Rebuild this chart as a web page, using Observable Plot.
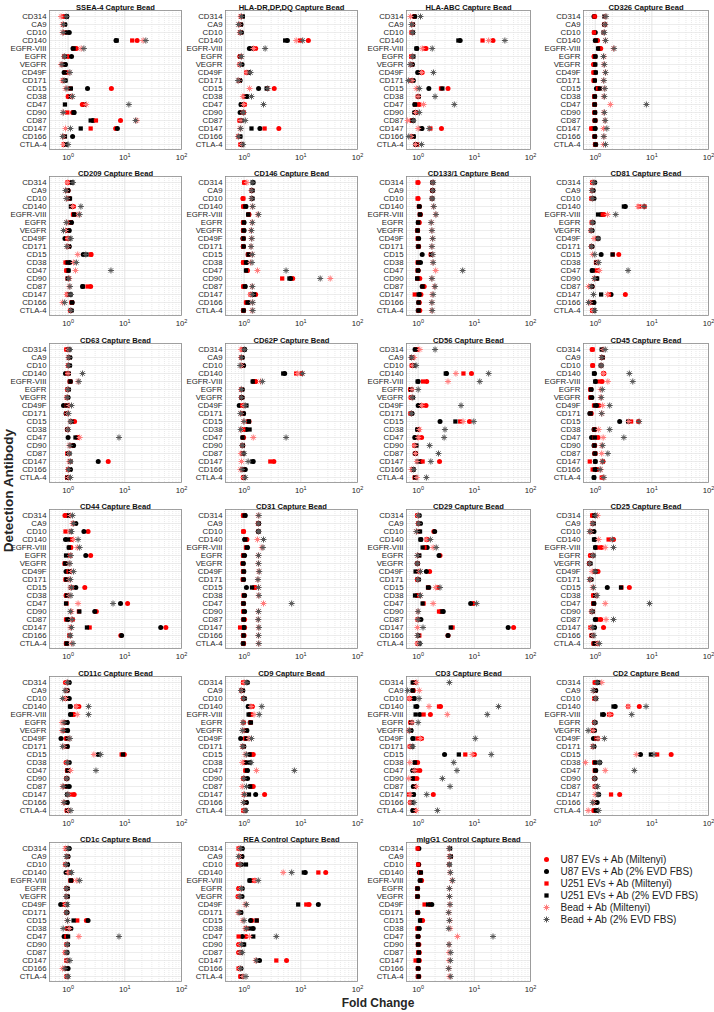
<!DOCTYPE html>
<html><head><meta charset="utf-8">
<script src="https://cdn.jsdelivr.net/npm/d3@7"></script>
<script src="https://cdn.jsdelivr.net/npm/@observablehq/plot@0.6"></script>
<style>
body{margin:0;background:#fff;font-family:"Liberation Sans",Arial,sans-serif;overflow:hidden;}
#root{position:relative;width:714px;height:1012px;}
.lab{position:absolute;font-weight:bold;color:#262626;white-space:nowrap;text-align:center;}
</style></head><body><div id="root"></div>
<script>
const categories = ["CD314","CA9","CD10","CD140","EGFR-VIII","EGFR","VEGFR","CD49F","CD171","CD15","CD38","CD47","CD90","CD87","CD147","CD166","CTLA-4"];
const seriesNames = ["U87 EVs + Ab (Miltenyi)","U87 EVs + Ab (2% EVD FBS)","U251 EVs + Ab (Miltenyi)","U251 EVs + Ab (2% EVD FBS)","Bead + Ab (Miltenyi)","Bead + Ab (2% EVD FBS)"];
const panelTitles = ["SSEA-4 Capture Bead","HLA-DR,DP,DQ Capture Bead","HLA-ABC Capture Bead","CD326 Capture Bead","CD209 Capture Bead","CD146 Capture Bead","CD133/1 Capture Bead","CD81 Capture Bead","CD63 Capture Bead","CD62P Capture Bead","CD56 Capture Bead","CD45 Capture Bead","CD44 Capture Bead","CD31 Capture Bead","CD29 Capture Bead","CD25 Capture Bead","CD11c Capture Bead","CD9 Capture Bead","CD3 Capture Bead","CD2 Capture Bead","CD1c Capture Bead","REA Control Capture Bead","mIgG1 Control Capture Bead"];
const xTicks = [1, 10, 100];

// each row: one detection antibody; columns follow seriesNames order
const SSEA4 = [[0.85,0.95,0.82,0.95,0.75,0.93],[0.85,0.88,0.82,0.86,0.8,0.83],[0.9,1.05,0.85,0.95,0.8,0.82],[16.5,7.0,13.5,7.2,21,23.5],[1.4,1.22,1.3,1.25,1.7,1.9],[1.0,1.15,0.85,0.87,0.85,0.87],[0.82,0.9,0.8,0.87,0.75,0.78],[0.95,0.85,0.9,0.88,1.05,1.08],[0.82,0.88,0.83,0.9,0.8,0.85],[5.8,2.2,1.08,1.12,0.9,0.95],[1.0,1.08,1.02,1.12,1.15,1.2],[1.78,1.95,1.85,0.88,2.1,11.8],[1.2,1.28,0.97,1.25,0.82,0.82],[8.4,2.75,3.1,2.5,16.3,15.5],[6.9,7.4,2.5,1.67,0.9,1.1],[0.85,1.2,0.85,0.88,0.82,0.8],[0.85,0.9,0.85,0.92,0.83,1.0]];
const HLADR = [[0.9,0.92,0.88,0.95,0.87,0.9],[0.87,0.88,0.84,0.86,0.82,0.8],[0.88,0.9,0.85,0.87,0.84,0.86],[13.6,5.8,9.7,5.3,8.3,10.8],[1.6,1.24,1.5,1.32,1.46,2.35],[0.84,0.86,0.85,0.87,0.88,0.9],[0.85,0.92,0.84,0.88,0.83,0.86],[1.12,1.2,1.1,1.22,1.12,1.3],[0.83,0.85,0.82,0.84,0.8,0.78],[3.4,1.8,2.55,2.5,1.25,2.6],[1.05,1.12,1.0,1.1,0.95,1.35],[1.02,0.88,1.0,0.9,0.98,2.2],[0.98,0.85,0.95,0.95,0.96,0.98],[0.85,0.88,0.83,0.9,0.88,1.05],[4.1,1.9,2.3,1.35,0.85,0.87],[0.82,0.84,0.8,0.86,0.78,0.8],[0.88,0.9,0.86,0.92,0.9,0.96]];
const HLAABC = [[0.85,0.87,0.84,0.86,0.73,1.1],[0.8,0.8,0.78,0.8,0.78,0.76],[0.78,0.8,0.76,0.8,0.78,0.8],[21.5,5.6,14,5.2,18,35],[1.38,0.95,1.28,0.93,1.18,1.78],[0.76,0.8,0.75,0.82,0.78,0.8],[0.77,0.79,0.76,0.78,0.74,0.72],[1.18,0.98,1.15,1.02,1.15,1.87],[0.77,0.82,0.75,0.8,0.78,0.67],[3.4,1.55,2.55,2.7,0.93,1.05],[1.0,1.0,0.99,1.02,1.0,2.0],[1.04,0.87,0.9,0.88,1.25,4.4],[0.93,0.86,0.9,0.88,0.9,1.05],[0.77,0.82,0.78,0.8,0.65,0.82],[2.6,1.17,1.65,1.12,1.0,1.57],[0.8,0.82,0.78,0.83,0.75,0.68],[0.95,0.9,0.92,0.92,0.9,1.15]];
const CD326 = [[0.98,0.95,0.97,1.45,1.5,1.55],[1.48,1.45,1.47,1.44,1.45,1.5],[0.96,1.0,0.95,1.4,1.42,1.45],[1.1,1.0,1.05,1.02,1.5,1.52],[1.25,1.15,1.2,1.12,2.1,2.15],[0.95,1.0,0.96,1.0,1.42,1.4],[0.93,0.98,0.95,1.0,1.42,1.45],[0.95,1.0,0.93,1.02,1.5,1.52],[0.95,0.97,0.94,0.98,1.4,1.42],[1.15,1.05,1.12,1.2,1.45,1.48],[0.97,0.98,0.96,0.98,1.42,1.45],[0.98,0.97,0.97,0.98,1.85,8.0],[0.98,0.98,0.97,0.99,1.42,1.45],[1.0,0.98,0.98,1.0,1.48,1.5],[0.88,1.0,0.85,0.98,1.4,1.6],[0.98,0.98,0.97,0.98,1.42,1.42],[1.0,1.02,1.0,1.01,1.4,1.52]];
const CD209 = [[1.0,1.15,0.98,1.18,0.98,1.22],[1.0,1.0,0.98,0.99,0.92,0.9],[1.05,1.05,1.02,1.08,0.95,0.93],[1.25,1.15,1.2,1.12,1.2,1.68],[1.3,1.25,1.22,1.28,1.55,1.6],[1.1,1.15,1.08,1.12,0.95,0.93],[1.0,1.05,0.98,1.02,0.9,0.83],[1.0,0.88,0.97,1.05,1.0,1.12],[1.02,1.05,1.0,1.03,0.98,0.95],[2.55,1.85,2.5,2.1,1.48,2.05],[0.95,1.07,0.9,0.98,1.25,1.4],[0.95,1.0,0.93,1.02,1.35,5.7],[1.0,1.02,0.98,0.99,1.05,1.02],[2.5,1.8,2.2,1.82,1.05,1.08],[1.0,1.1,0.97,1.05,0.95,1.12],[1.17,1.18,1.15,1.17,0.8,0.87],[1.1,1.15,1.12,1.13,1.1,1.12]];
const CD146 = [[1.02,1.45,1.0,1.42,1.12,1.42],[1.38,1.4,1.37,1.38,1.35,1.37],[0.95,1.4,0.97,1.38,1.35,1.37],[0.98,1.08,0.97,1.05,1.4,1.42],[1.22,1.2,1.2,1.18,1.75,1.8],[0.97,1.0,0.96,0.99,1.38,1.4],[0.97,1.0,0.96,0.98,1.32,1.35],[0.97,0.95,0.96,0.98,1.35,1.37],[0.97,0.97,0.96,0.98,1.32,1.33],[1.2,1.18,1.17,1.2,1.38,1.4],[0.97,1.1,0.96,1.08,1.3,1.38],[1.15,1.1,1.12,1.08,1.72,5.5],[7.2,6.6,4.7,6.3,33,22],[0.98,1.05,0.97,1.03,1.38,1.4],[1.6,1.45,1.3,1.5,1.3,1.4],[1.1,1.18,1.08,1.15,1.4,1.42],[0.98,0.97,0.97,0.98,1.38,1.42]];
const CD133 = [[1.0,1.82,0.98,1.8,1.82,1.85],[1.8,1.82,1.78,1.8,1.8,1.82],[1.0,1.78,0.98,1.76,1.76,1.78],[1.05,1.05,1.03,1.04,1.88,1.9],[1.1,1.08,1.07,1.08,2.05,2.08],[1.05,1.0,1.02,1.0,1.72,1.7],[0.98,0.97,0.97,0.98,1.75,1.76],[1.0,1.02,0.98,1.0,1.8,1.82],[1.02,1.0,1.0,1.01,1.75,1.76],[1.7,1.18,1.68,1.72,1.8,1.82],[1.0,1.1,0.98,1.0,1.83,1.85],[1.0,1.0,0.98,0.99,2.05,6.2],[1.07,0.98,0.97,0.96,1.75,1.76],[1.28,1.18,1.22,1.2,1.95,2.0],[1.12,1.05,0.87,1.02,1.78,1.85],[1.05,1.02,1.03,1.02,1.75,1.76],[1.07,1.0,1.02,1.02,1.75,1.78]];
const CD81 = [[0.9,0.98,0.88,0.95,0.9,0.95],[0.9,0.92,0.88,0.9,0.87,0.88],[0.87,0.95,0.85,0.9,0.88,0.9],[7.4,3.4,6.0,3.2,5.7,7.3],[1.42,1.28,1.35,1.12,1.65,2.3],[0.88,0.92,0.87,0.9,0.88,0.9],[0.85,0.88,0.84,0.87,0.84,0.85],[1.1,1.13,1.08,1.12,0.95,1.12],[0.87,0.88,0.86,0.87,0.85,0.86],[2.6,1.27,2.05,2.02,0.9,0.98],[1.05,1.08,1.03,1.05,1.1,1.15],[1.12,0.88,1.02,0.9,1.18,3.8],[1.05,1.05,1.0,1.08,0.95,0.97],[0.88,0.88,0.86,0.87,0.76,0.85],[3.4,1.9,1.75,1.27,1.65,0.93],[0.88,0.95,0.87,0.92,0.8,0.76],[0.9,0.93,0.88,0.95,0.9,0.98]];
const CD63 = [[0.95,1.05,0.93,1.0,1.0,1.08],[1.05,1.08,1.03,1.05,1.02,1.03],[1.03,1.07,1.0,1.05,1.0,1.02],[1.0,0.9,0.98,1.03,1.0,1.8],[1.1,1.08,1.07,1.1,1.5,1.55],[1.0,1.02,0.97,1.0,0.98,1.0],[0.97,1.0,0.95,0.98,0.95,0.97],[0.98,0.83,0.95,0.97,1.05,1.15],[0.95,0.92,0.93,0.95,0.98,1.02],[1.3,1.12,1.2,1.15,1.1,1.12],[0.97,0.98,0.96,0.97,0.98,1.0],[1.5,1.0,1.45,1.35,1.6,7.9],[1.2,1.25,1.15,1.22,1.05,1.08],[0.98,1.05,0.97,1.0,1.02,1.05],[5.1,3.4,1.08,1.1,1.05,1.1],[1.05,1.1,1.0,1.08,1.0,1.02],[0.97,0.98,0.96,0.98,1.02,1.1]];
const CD62P = [[0.95,1.02,0.93,1.0,0.88,1.02],[0.92,0.93,0.9,0.92,0.88,0.9],[0.95,0.98,0.93,0.95,0.9,0.85],[10.4,5.2,8.3,4.9,8.8,10.7],[1.6,1.45,1.55,1.42,1.95,2.1],[0.92,0.93,0.9,0.92,0.88,0.9],[0.92,0.93,0.9,0.91,0.9,0.9],[0.95,0.82,0.93,1.1,0.98,1.05],[0.95,0.98,0.93,0.97,0.88,0.86],[1.22,1.2,1.18,1.22,0.98,1.0],[0.98,1.1,0.97,1.25,0.9,0.87],[0.98,0.95,0.96,0.94,1.45,5.5],[0.95,0.93,0.94,0.95,0.92,0.93],[0.95,0.93,0.94,0.97,0.88,1.0],[3.35,1.45,2.9,1.4,0.9,1.18],[0.97,1.05,0.95,1.0,0.86,0.92],[0.97,0.98,0.96,1.0,0.97,1.05]];
const CD56 = [[0.97,0.88,0.93,0.9,1.07,2.0],[0.8,0.78,0.77,0.79,0.85,0.76],[0.78,0.85,0.77,0.82,0.8,0.92],[8.9,3.2,6.4,3.1,4.7,18],[1.42,1.0,1.22,0.98,3.4,12.5],[0.73,0.76,0.72,0.75,0.78,1.0],[0.75,0.8,0.74,0.78,0.77,0.8],[1.38,1.0,1.18,1.05,1.15,5.8],[0.74,0.78,0.73,0.77,0.75,0.76],[8.2,2.45,5.6,4.6,6.3,9.8],[1.02,0.98,1.0,0.97,1.05,3.0],[1.15,0.87,0.98,0.9,1.0,2.9],[0.88,0.9,0.86,0.93,0.87,1.6],[0.9,0.88,0.89,0.9,0.9,2.3],[2.4,1.1,1.2,0.98,0.95,1.68],[0.8,0.82,0.79,0.81,0.76,0.83],[0.88,0.9,0.87,0.89,0.95,1.4]];
const CD45 = [[0.88,1.33,0.9,1.3,1.38,1.5],[1.35,1.33,1.32,1.34,1.3,1.3],[0.9,1.28,0.9,1.25,1.27,1.27],[1.42,0.97,1.4,0.95,1.4,4.0],[1.32,1.02,1.2,1.0,1.67,4.6],[0.83,0.85,0.82,0.84,1.25,1.33],[0.83,0.87,0.82,0.85,1.25,1.28],[1.15,1.05,0.95,1.0,1.35,1.8],[0.85,0.8,0.84,0.83,1.3,1.3],[5.8,2.7,4.3,3.8,3.9,5.95],[0.97,0.95,0.96,0.97,1.15,1.8],[1.12,0.86,0.97,0.98,1.38,3.2],[0.98,0.95,0.96,0.97,1.3,1.35],[1.0,0.97,0.98,1.0,1.3,1.67],[1.37,1.0,0.8,1.0,1.32,1.35],[1.08,1.0,0.9,0.98,1.25,1.22],[1.35,0.95,1.3,0.95,1.38,1.42]];
const CD44 = [[0.88,1.0,0.92,1.05,1.1,1.2],[1.3,1.37,1.25,1.28,1.2,1.25],[2.25,1.9,0.9,1.12,1.08,1.15],[1.15,0.9,1.12,1.0,1.25,1.5],[1.12,1.05,1.1,1.03,1.45,1.6],[2.5,2.05,1.08,0.92,1.1,1.12],[0.88,0.9,0.87,0.89,1.05,1.08],[1.05,0.92,1.02,1.08,1.15,1.25],[0.92,0.94,0.9,0.93,1.05,1.1],[1.97,1.37,1.15,1.12,1.1,1.15],[0.92,0.97,0.93,0.95,1.05,1.12],[11.2,8.4,0.94,0.92,1.5,6.2],[3.15,2.95,1.55,1.58,1.15,1.1],[1.2,1.0,0.92,0.97,1.15,1.18],[53,43,2.4,2.15,1.1,1.15],[8.5,8.8,1.05,1.08,1.08,1.1],[0.93,0.95,0.92,0.94,1.15,1.22]];
const CD31 = [[0.97,1.05,0.96,1.02,1.78,1.82],[1.78,1.8,1.77,1.79,1.77,1.8],[0.98,1.78,0.97,1.78,1.78,1.8],[1.12,1.02,1.08,1.05,1.72,2.2],[1.1,1.15,1.08,1.12,2.05,2.15],[0.97,1.02,0.96,0.99,1.78,1.8],[0.95,0.97,0.94,0.96,1.78,1.8],[0.97,0.99,0.96,0.98,1.82,1.85],[0.96,0.98,0.95,0.97,1.75,1.76],[1.55,1.1,1.5,1.38,1.78,1.8],[1.0,1.02,0.98,1.0,1.8,1.83],[0.97,0.98,0.96,0.97,2.2,6.9],[0.98,1.02,0.97,1.0,1.78,1.8],[1.02,0.97,0.98,0.99,1.77,1.78],[1.02,0.98,0.85,1.0,1.8,1.83],[1.0,0.97,0.96,0.98,1.78,1.8],[0.98,0.96,0.97,0.97,1.8,1.82]];
const CD29 = [[0.97,1.05,0.96,1.02,0.98,1.02],[1.02,1.1,1.0,1.03,1.0,1.02],[1.9,1.97,1.02,1.08,0.93,0.93],[1.45,1.12,1.42,1.1,1.42,1.65],[1.35,1.45,1.3,1.2,1.85,2.1],[2.45,2.35,1.02,1.05,0.97,0.97],[0.97,0.96,0.96,0.97,0.96,0.97],[1.6,1.4,1.02,0.9,1.05,1.1],[0.97,1.02,0.96,1.0,0.98,0.99],[2.25,1.55,1.5,1.5,2.05,2.45],[0.97,1.05,0.95,0.88,1.08,1.1],[9.6,8.6,1.25,1.2,1.85,11],[2.5,2.8,2.35,2.7,0.99,1.0],[1.0,1.12,0.98,1.05,0.98,1.0],[50,40,4.1,3.8,0.97,1.22],[3.4,3.4,1.05,1.0,0.97,0.98],[1.0,1.05,0.98,1.02,0.97,1.08]];
const CD25 = [[0.9,0.98,0.88,0.97,1.1,1.0],[0.92,0.93,0.9,0.92,0.9,0.91],[0.84,0.95,0.83,0.9,0.83,0.8],[2.1,0.97,1.72,0.95,1.15,2.0],[1.28,1.02,1.12,1.0,1.5,2.1],[0.82,0.92,0.83,0.9,0.9,0.92],[0.8,0.82,0.78,0.8,0.79,0.8],[1.12,0.98,0.97,1.0,0.88,1.0],[0.82,0.85,0.81,0.84,0.82,0.8],[4.0,1.63,2.9,2.85,0.9,0.93],[0.93,1.02,0.92,1.0,1.05,1.08],[0.93,0.95,0.92,0.94,1.5,9.1],[0.9,0.88,0.87,0.89,0.86,0.88],[1.25,1.0,1.1,1.02,1.55,2.1],[1.4,0.97,0.82,0.95,0.85,0.9],[0.88,0.87,0.86,0.88,0.9,0.95],[1.08,0.95,0.93,0.97,1.1,1.18]];
const CD11c = [[0.9,1.05,0.92,1.02,0.95,0.98],[0.95,0.97,0.94,0.96,0.93,0.88],[0.92,1.05,0.9,0.98,0.9,0.8],[1.55,1.1,1.4,1.08,1.4,2.3],[1.25,1.1,1.22,1.12,1.45,2.3],[0.9,0.97,0.88,0.95,0.78,0.85],[0.85,0.98,0.84,0.96,0.78,0.82],[0.92,0.75,0.95,0.98,1.05,1.08],[0.95,0.97,0.94,0.96,0.84,0.8],[9.8,3.4,8.8,9.3,2.85,3.75],[0.92,1.05,0.95,1.0,0.95,0.97],[0.97,1.02,0.96,0.98,1.1,3.1],[0.95,0.96,0.94,0.95,0.94,0.95],[0.9,1.05,0.88,0.95,0.8,0.82],[1.28,0.97,1.15,0.98,1.0,0.97],[0.93,0.97,0.9,0.95,0.83,0.85],[0.96,1.0,0.95,0.98,1.02,1.12]];
const CD9 = [[0.97,1.15,0.96,1.1,1.0,1.12],[0.92,0.95,0.9,0.93,0.9,0.88],[0.98,1.02,0.96,1.0,0.97,0.98],[1.4,1.18,1.35,1.2,1.32,2.05],[1.35,1.25,1.3,1.2,1.5,1.85],[0.98,1.28,1.3,1.32,0.95,0.96],[1.08,1.12,1.05,1.1,0.95,0.93],[1.07,0.87,1.05,1.1,1.22,1.35],[0.97,0.99,0.95,0.98,0.95,0.94],[1.45,1.27,1.35,1.25,1.05,1.1],[1.05,1.27,1.02,1.1,0.93,1.33],[1.08,1.15,1.05,1.12,1.65,7.7],[0.98,1.15,0.97,1.02,0.97,0.99],[1.45,1.3,1.35,1.28,0.93,1.1],[2.3,1.6,1.0,1.22,0.98,1.02],[1.07,1.1,1.05,1.08,0.97,0.98],[0.98,1.05,0.97,1.03,1.0,1.08]];
const CD3 = [[0.85,0.9,0.83,0.8,0.93,3.6],[0.82,0.8,0.81,0.8,1.05,0.65],[0.72,0.85,0.7,0.85,0.7,1.04],[2.5,0.95,2.35,0.9,1.56,27],[1.65,1.07,1.25,0.9,3.3,17],[0.74,0.77,0.73,0.76,0.78,1.0],[0.72,0.75,0.71,0.74,0.68,0.7],[1.15,0.8,0.98,0.82,1.1,10.4],[0.72,0.78,0.71,0.76,0.72,0.8],[10,2.95,6.9,5.3,9.2,20],[0.98,0.88,0.9,0.87,0.71,4.3],[1.07,0.8,0.93,0.83,0.85,4.9],[0.95,0.82,0.85,0.8,0.68,2.7],[0.88,0.82,0.85,0.84,0.93,3.7],[1.86,0.83,0.69,0.82,0.72,1.42],[0.75,0.78,0.72,0.77,0.72,0.85],[0.88,0.8,0.86,0.82,0.93,2.2]];
const CD2 = [[1.0,1.15,0.98,1.12,1.3,1.08],[1.0,1.02,0.98,1.0,0.93,0.92],[0.97,1.02,0.96,1.0,1.0,1.03],[6.0,2.25,3.8,2.1,3.8,7.9],[1.9,1.4,1.75,1.33,1.8,4.4],[0.97,1.0,0.96,0.99,0.97,0.98],[0.92,0.97,0.91,0.95,0.92,0.75],[1.08,0.93,1.05,1.1,1.12,1.45],[0.93,0.95,0.92,0.94,0.9,0.92],[21.9,6.3,12.4,9.6,5.3,10.9],[0.97,1.2,0.96,1.0,0.67,1.2],[1.0,1.02,0.98,1.0,1.5,4.9],[0.98,0.99,0.97,0.98,0.97,0.98],[1.0,1.05,0.98,1.02,1.0,1.1],[2.7,1.15,1.9,1.12,1.0,1.12],[0.97,1.08,0.96,1.02,0.93,0.9],[0.95,1.08,0.94,1.02,0.75,1.15]];
const CD1c = [[0.93,1.05,0.92,1.02,0.9,1.0],[0.97,1.0,0.96,0.98,0.95,0.93],[0.92,0.98,0.9,0.96,0.9,0.92],[1.08,0.92,1.05,1.1,1.0,1.15],[1.15,1.12,1.1,1.12,1.42,1.6],[0.95,0.98,0.94,0.96,0.94,0.93],[0.96,0.98,0.95,0.97,0.93,0.92],[0.85,0.74,0.88,0.95,0.9,0.97],[0.95,0.96,0.94,0.95,0.93,0.94],[2.1,2.25,1.45,1.25,0.97,0.98],[0.95,1.12,1.0,1.02,1.05,0.82],[0.92,0.85,0.93,1.0,1.55,7.9],[0.95,0.98,0.94,0.97,0.95,0.97],[0.92,0.96,0.9,0.95,0.88,0.95],[0.95,0.98,0.93,0.97,0.96,1.08],[0.92,1.0,0.9,0.96,0.8,0.88],[0.95,0.97,0.94,0.96,0.95,1.0]];
const REA = [[0.82,0.93,0.8,0.9,0.82,0.87],[0.85,0.92,0.84,0.9,0.83,0.8],[0.78,0.9,0.79,1.08,0.85,0.85],[27.5,12.0,20.4,11.3,4.9,6.9],[1.5,1.27,1.48,1.25,1.55,1.78],[0.8,0.93,0.82,0.9,0.87,0.9],[0.78,0.92,0.8,0.88,0.82,0.85],[14,20.4,12.5,9.0,1.05,1.1],[0.85,0.88,0.84,0.87,0.78,0.82],[1.37,1.3,1.67,1.67,0.95,1.0],[1.1,1.45,1.08,1.3,1.05,1.1],[1.08,0.93,0.8,1.45,1.24,3.7],[0.8,0.96,0.82,1.0,0.85,0.9],[0.8,0.88,0.82,0.86,0.85,0.93],[5.6,1.87,3.7,1.75,1.6,1.65],[0.82,0.88,0.8,0.86,0.83,0.87],[0.88,0.9,0.86,0.92,0.95,1.08]];
const MIGG1 = [[1.0,1.03,0.98,3.7,3.55,3.6],[3.8,3.75,3.7,3.8,3.6,3.7],[1.02,1.02,1.0,3.6,3.55,3.6],[1.1,1.05,1.08,1.12,3.7,3.75],[1.15,1.08,1.12,1.1,4.0,4.1],[0.97,0.98,0.96,0.97,3.6,3.6],[0.97,0.98,0.96,0.97,3.6,3.62],[1.6,1.75,1.3,1.5,3.65,3.7],[0.98,0.99,0.97,0.98,3.5,3.5],[1.2,1.1,1.15,1.08,3.65,3.6],[0.98,1.05,0.97,1.02,3.7,3.5],[1.0,1.0,0.99,0.99,5.0,21.5],[1.03,1.0,0.99,1.0,3.55,3.55],[1.05,1.02,1.0,1.03,3.55,3.8],[1.05,1.0,0.9,1.02,3.55,3.75],[1.0,1.0,0.99,1.0,3.5,3.5],[1.03,1.0,0.99,1.02,3.6,3.8]];

const panelData = [SSEA4,HLADR,HLAABC,CD326,CD209,CD146,CD133,CD81,CD63,CD62P,CD56,CD45,CD44,CD31,CD29,CD25,CD11c,CD9,CD3,CD2,CD1c,REA,MIGG1];

// ---- layout & style ----
const colFrameLeft = [49, 225, 406, 583];
const colFrameWidth = [132, 132, 124, 125];
const colXMin = [0.47, 0.47, 0.62, 0.62];
const rowFrameTop = [10, 176, 343, 509, 676, 842];
const frameH = 139;
const mL = 49, mR = 6, mT = 14, mB = 16;
const FONT = '"Liberation Sans", Arial, Helvetica, sans-serif';
// MATLAB-style eight-armed asterisk
const star8 = {
  draw(ctx, size) {
    const r = Math.sqrt(size / Math.PI), d = r * Math.SQRT1_2;
    ctx.moveTo(-r, 0); ctx.lineTo(r, 0);
    ctx.moveTo(0, -r); ctx.lineTo(0, r);
    ctx.moveTo(-d, -d); ctx.lineTo(d, d);
    ctx.moveTo(-d, d); ctx.lineTo(d, -d);
  }
};
const seriesStyle = [
  {symbol: "circle", fill: "#ff0000", r: 2.5},
  {symbol: "circle", fill: "#000000", r: 2.5},
  {symbol: "square", fill: "#ff0000", r: 2.4},
  {symbol: "square", fill: "#000000", r: 2.4},
  {symbol: star8, fill: "none", stroke: "#ff7a7a", strokeWidth: 1, r: 3},
  {symbol: star8, fill: "none", stroke: "#555555", strokeWidth: 1, r: 3}
];
const minorGrid = [];
for (const dec of [0.1, 1, 10]) for (let k = 2; k <= 9; k++) minorGrid.push(+(k * dec).toFixed(3));

const root = document.getElementById("root");

function supTicks(svg) {
  svg.querySelectorAll('g[aria-label="x-axis tick label"] text').forEach(t => {
    const e = t.textContent;
    t.textContent = "10";
    const ts = document.createElementNS("http://www.w3.org/2000/svg", "tspan");
    ts.setAttribute("dy", "-3");
    ts.setAttribute("font-size", "5.5");
    ts.textContent = e;
    t.appendChild(ts);
  });
}

panelData.forEach((rows, i) => {
  const r = Math.floor(i / 4), c = i % 4;
  const fw = colFrameWidth[c];
  const xmin = colXMin[c];
  const data = [];
  rows.forEach((vals, ci) => vals.forEach((v, si) => data.push({cat: categories[ci], s: si, v})));
  const marks = [
    Plot.ruleX(minorGrid.filter(d => d > xmin && d < 100), {stroke: "#dadada", strokeWidth: 0.6, strokeDasharray: "1,1"}),
    Plot.ruleX(xTicks, {stroke: "#d2d2d2", strokeWidth: 0.6}),
    Plot.ruleY(categories, {stroke: "#e0e0e0", strokeWidth: 0.6}),
    Plot.axisX(xTicks, {tickSize: 0, tickPadding: 5, tickFormat: d => String(Math.round(Math.log10(d))), fontSize: 7.8, label: null}),
    Plot.axisY({tickSize: 0, tickPadding: 3, fontSize: 7.8, label: null}),
    Plot.frame({stroke: "#8a8a8a", strokeWidth: 0.8}),
    Plot.text([panelTitles[i]], {frameAnchor: "top", dy: -6, fontWeight: "bold", fontSize: 7.6, fill: "#111"})
  ];
  seriesStyle.forEach((st, si) => {
    marks.push(Plot.dot(data.filter(d => d.s === si), {x: "v", y: "cat", ...st}));
  });
  const svg = Plot.plot({
    width: mL + fw + mR,
    height: mT + frameH + mB,
    marginLeft: mL, marginRight: mR, marginTop: mT, marginBottom: mB,
    style: {fontFamily: FONT, fontSize: "7.8px", color: "#262626", background: "transparent", overflow: "visible"},
    x: {type: "log", domain: [xmin, 100]},
    y: {type: "point", domain: categories, padding: 0.4},
    marks
  });
  supTicks(svg);
  svg.style.position = "absolute";
  svg.style.left = (colFrameLeft[c] - mL) + "px";
  svg.style.top = (rowFrameTop[r] - mT) + "px";
  root.appendChild(svg);
});

// legend
const leg = Plot.plot({
  width: 177, height: 77,
  marginLeft: 9, marginRight: 0, marginTop: 7, marginBottom: 7,
  style: {fontFamily: FONT, color: "#262626", background: "transparent", overflow: "visible"},
  y: {type: "point", domain: seriesNames, padding: 0, axis: null},
  marks: [
    ...seriesStyle.map((st, si) => Plot.dot([seriesNames[si]], {y: d => d, frameAnchor: "left", ...st})),
    Plot.text(seriesNames, {y: d => d, frameAnchor: "left", dx: 14, textAnchor: "start", fontSize: 10, fill: "#222"})
  ]
});
leg.style.position = "absolute";
leg.style.left = "537px";
leg.style.top = "850px";
root.appendChild(leg);

// axis titles
const yl = document.createElement("div");
yl.className = "lab";
yl.textContent = "Detection Antibody";
yl.style.fontSize = "13.5px";
yl.style.width = "200px";
yl.style.left = (8 - 100) + "px";
yl.style.top = (491 - 8) + "px";
yl.style.transform = "rotate(-90deg)";
root.appendChild(yl);

const xl = document.createElement("div");
xl.className = "lab";
xl.textContent = "Fold Change";
xl.style.fontSize = "12px";
xl.style.width = "200px";
xl.style.left = (378 - 100) + "px";
xl.style.top = (1003 - 7) + "px";
root.appendChild(xl);
</script>
</body></html>
